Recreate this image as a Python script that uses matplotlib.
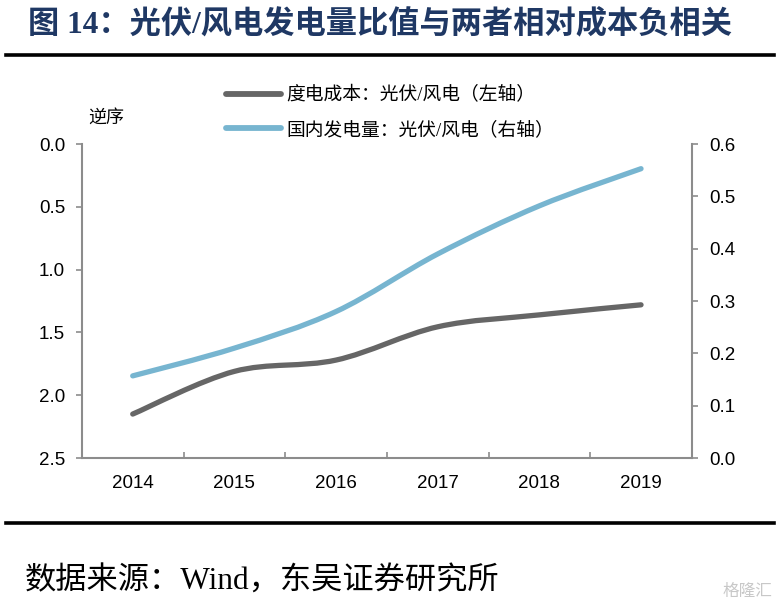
import numpy as np
import matplotlib
matplotlib.use("Agg")
import matplotlib.pyplot as plt
from matplotlib.path import Path
from matplotlib.patches import PathPatch
from matplotlib.lines import Line2D

plt.rcParams['font.family'] = ['Liberation Sans', 'Noto Sans CJK SC', 'DejaVu Sans']

years = ["2014", "2015", "2016", "2017", "2018", "2019"]
cost_ratio = [2.15, 1.81, 1.72, 1.455, 1.36, 1.28]      # 度电成本 光伏/风电 (左轴, 逆序)
gen_ratio = [0.157, 0.21, 0.28, 0.39, 0.482, 0.553]     # 国内发电量 光伏/风电 (右轴)

title = "图 14：光伏/风电发电量比值与两者相对成本负相关"
label_cost = "度电成本：光伏/风电（左轴）"
label_gen = "国内发电量：光伏/风电（右轴）"
source = "数据来源：Wind，东吴证券研究所"

GRAY = "#666666"
BLUE = "#77B5D0"
SPINE = "#8c8c8c"
CJK_SERIF = ['Liberation Serif', 'Noto Sans CJK SC']


def smooth_path(x, y):
    # Excel-style smoothed line: cubic bezier through every point
    x = np.asarray(x, float)
    y = np.asarray(y, float)
    px = np.r_[x[0], x, x[-1]]
    py = np.r_[y[0], y, y[-1]]
    verts = [(x[0], y[0])]
    codes = [Path.MOVETO]
    for i in range(1, len(x)):
        c1 = (px[i] + (px[i + 1] - px[i - 1]) / 6, py[i] + (py[i + 1] - py[i - 1]) / 6)
        c2 = (px[i + 1] - (px[i + 2] - px[i]) / 6, py[i + 1] - (py[i + 2] - py[i]) / 6)
        verts += [c1, c2, (x[i], y[i])]
        codes += [Path.CURVE4] * 3
    return Path(verts, codes)


fig = plt.figure(figsize=(7.8, 6.08), dpi=100)
ax = fig.add_axes([0.105, 0.2467, 0.782, 0.5163])
ax2 = ax.twinx()

xs = np.arange(len(years))
ax.add_patch(PathPatch(smooth_path(xs, cost_ratio), facecolor="none", edgecolor=GRAY,
                       lw=3.8, capstyle="round", zorder=3))
ax2.add_patch(PathPatch(smooth_path(xs, gen_ratio), facecolor="none", edgecolor=BLUE,
                        lw=3.8, capstyle="round", zorder=3))

ax.set_xlim(-0.5, len(years) - 0.5)
ax.set_ylim(2.5, 0.0)
ax2.set_ylim(0.0, 0.6)
ax.set_yticks(np.arange(0, 2.51, 0.5))
ax.set_yticklabels([f"{v:.1f}" for v in np.arange(0, 2.51, 0.5)])
ax2.set_yticks(np.arange(0, 0.61, 0.1))
ax2.set_yticklabels([f"{v:.1f}" for v in np.arange(0, 0.61, 0.1)])

ax.set_xticks(xs)
ax.set_xticklabels(years)
ax.set_xticks(xs[:-1] + 0.5, minor=True)
ax.tick_params(axis="x", which="major", length=0, pad=12, labelsize=13.5)
ax.tick_params(axis="x", which="minor", direction="in", length=4.5, color=SPINE, width=1.2)
ax.tick_params(axis="y", length=4.5, color=SPINE, width=1.2, labelsize=13.5, pad=7.5)
ax2.tick_params(axis="y", length=4.5, color=SPINE, width=1.2, labelsize=13.5, pad=8)

for a in (ax, ax2):
    for s in a.spines.values():
        s.set_visible(False)
ax.spines["left"].set_visible(True)
ax.spines["bottom"].set_visible(True)
ax2.spines["right"].set_visible(True)
for s in (ax.spines["left"], ax.spines["bottom"], ax2.spines["right"]):
    s.set_color(SPINE)
    s.set_linewidth(1.5)

# legend
handles = [Line2D([], [], color=GRAY, lw=4.2, solid_capstyle="round"),
           Line2D([], [], color=BLUE, lw=4.2, solid_capstyle="round")]
fig.legend(handles, [label_cost, label_gen], loc="upper left",
           bbox_to_anchor=(0.268, 0.886), frameon=False, handlelength=2.95,
           handletextpad=0.27, labelspacing=0.9, prop={"family": CJK_SERIF, "size": 13.5})

fig.text(0.113, 0.806, "逆序", fontsize=13, family=CJK_SERIF, ha="left", va="center")

# title and rules
fig.text(0.036, 0.959, title, fontsize=22.5, fontweight="bold", color="#1F3864",
         family=['Liberation Serif', 'Noto Sans CJK SC'], ha="left", va="center")
fig.add_artist(Line2D([0.008, 0.992], [0.910, 0.910], color="black", lw=2.6))
fig.add_artist(Line2D([0.008, 0.992], [0.140, 0.140], color="black", lw=2.6))

fig.text(0.032, 0.043, source, fontsize=22.5, family=CJK_SERIF, ha="left", va="center")
fig.text(0.99, 0.028, "格隆汇", fontsize=12, color="#c8c8c8", ha="right", va="center",
         family=['Noto Sans CJK SC'])

fig.savefig("out.png", dpi=100)
